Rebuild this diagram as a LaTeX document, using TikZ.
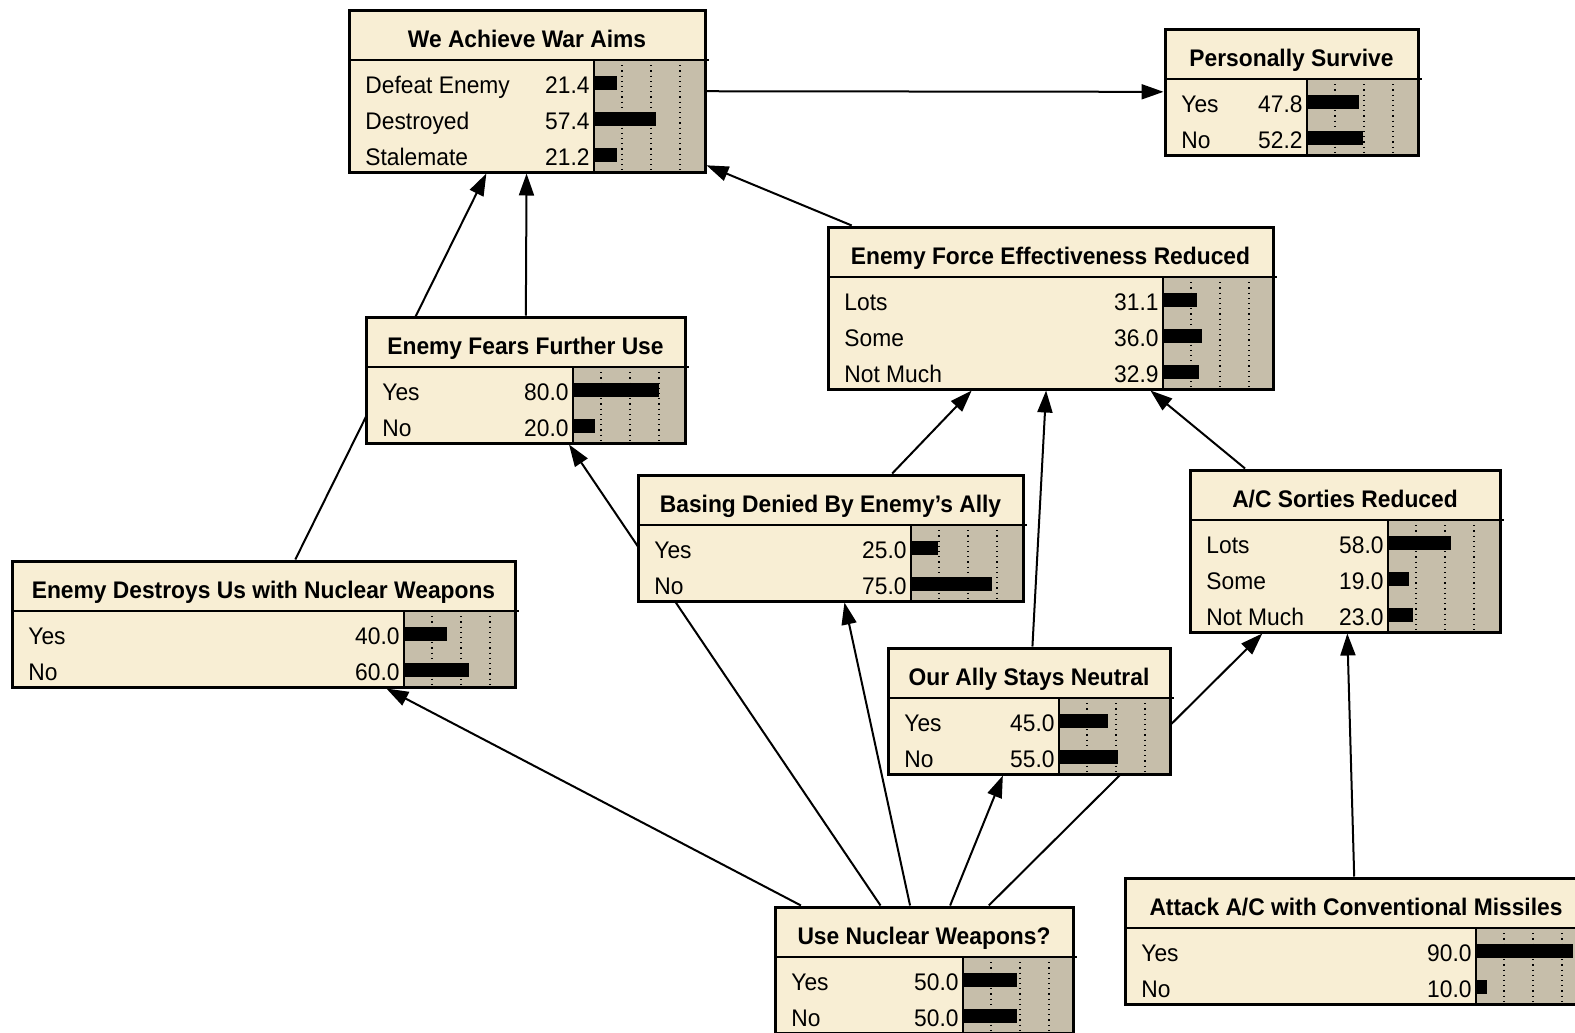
\documentclass[tikz,border=0pt]{standalone}
\usepackage{fontspec}
\setmainfont{Liberation Sans}[FakeStretch=0.95]
\usetikzlibrary{arrows.meta,fit,backgrounds}
\definecolor{bnCream}{RGB}{248,238,212}
\definecolor{bnGray}{RGB}{198,190,170}

% #1 name, #2 left, #3 top, #4 right, #5 bar start, #6 rows, #7 title, #8 states
\newcommand{\bnNode}[8]{%
  \pgfmathsetmacro{\bnBot}{#3+54+36*#6}
  \node[bnFrame, fit={(#2,#3) (#4,\bnBot)}] (#1) {};
  \fill[bnGray] (#5,#3+50) rectangle (#4,\bnBot);
  \foreach \d in {28,57,86}
    \draw[bnGrid] (#5+\d,#3+50) -- (#5+\d,\bnBot);
  \draw[bnRule] (#5,#3+50) -- (#5,\bnBot);
  \draw[bnRule] (#2,#3+50) -- (#4+4,#3+50);
  \node[bnTitle] (#1-t) at ({(#2+#4)/2},#3+37) {#7};
  \foreach \s/\p [count=\k from 0] in {#8} {
    \node[bnText, anchor=base west] (#1-s\k) at (#2+16,#3+83+36*\k) {\s};
    \node[bnText, anchor=base east] (#1-p\k) at (#5-4,#3+83+36*\k) {\p};
    \fill (#5,#3+66+36*\k) rectangle ++(1.08*\p,14);
  }
  \draw[bnBorder] (#2,#3) rectangle (#4,\bnBot);
}

\begin{document}
\begin{tikzpicture}[x=0.5pt, y=-0.5pt,
    bnFrame/.style={fill=bnCream, inner sep=0pt, outer sep=0.75pt},
    bnBorder/.style={line width=1.5pt},
    bnRule/.style={line width=1.2pt},
    bnGrid/.style={dotted, line width=0.6pt},
    bnTitle/.style={font=\fontsize{12}{14}\selectfont\bfseries, anchor=base, inner sep=0pt},
    bnText/.style={font=\fontsize{12}{14}\selectfont, inner sep=0pt},
    link/.style={line width=1pt, -{Triangle[length=11pt, width=7.5pt]}}]
    \useasboundingbox (0,0) rectangle (1575,1033);

    \bnNode{wa}{349}{10}{705}{594}{3}{We Achieve War Aims}
        {Defeat Enemy/21.4, Destroyed/57.4, Stalemate/21.2}
    \bnNode{ps}{1165}{29}{1418}{1307}{2}{Personally Survive}
        {Yes/47.8, No/52.2}
    \bnNode{efe}{828}{227}{1273}{1163}{3}{Enemy Force Effectiveness Reduced}
        {Lots/31.1, Some/36.0, Not Much/32.9}
    \bnNode{ef}{366}{317}{685}{573}{2}{Enemy Fears Further Use}
        {Yes/80.0, No/20.0}
    \bnNode{bd}{638}{475}{1023}{911}{2}{Basing Denied By Enemy's Ally}
        {Yes/25.0, No/75.0}
    \bnNode{acs}{1190}{470}{1500}{1388}{3}{A/C Sorties Reduced}
        {Lots/58.0, Some/19.0, Not Much/23.0}
    \bnNode{ed}{12}{561}{515}{404}{2}{Enemy Destroys Us with Nuclear Weapons}
        {Yes/40.0, No/60.0}
    \bnNode{oa}{888}{648}{1170}{1059}{2}{Our Ally Stays Neutral}
        {Yes/45.0, No/55.0}
    \bnNode{un}{775}{907}{1073}{963}{2}{Use Nuclear Weapons?}
        {Yes/50.0, No/50.0}
    \bnNode{aa}{1125}{878}{1587}{1476}{2}{Attack A/C with Conventional Missiles}
        {Yes/90.0, No/10.0}

    \begin{pgfonlayer}{background}
        \draw[link] (wa) -- (ps);
        \draw[link] (efe) -- (wa);
        \draw[link] (ef) -- (wa);
        \draw[link] (ed) -- (wa);
        \draw[link] (bd) -- (efe);
        \draw[link] (oa) -- (efe);
        \draw[link] (acs) -- (efe);
        \draw[link] (un) -- (ef);
        \draw[link] (un) -- (bd);
        \draw[link] (un) -- (oa);
        \draw[link] (un) -- (acs);
        \draw[link] (un) -- (ed);
        \draw[link] (aa) -- (acs);
    \end{pgfonlayer}
\end{tikzpicture}
\end{document}
